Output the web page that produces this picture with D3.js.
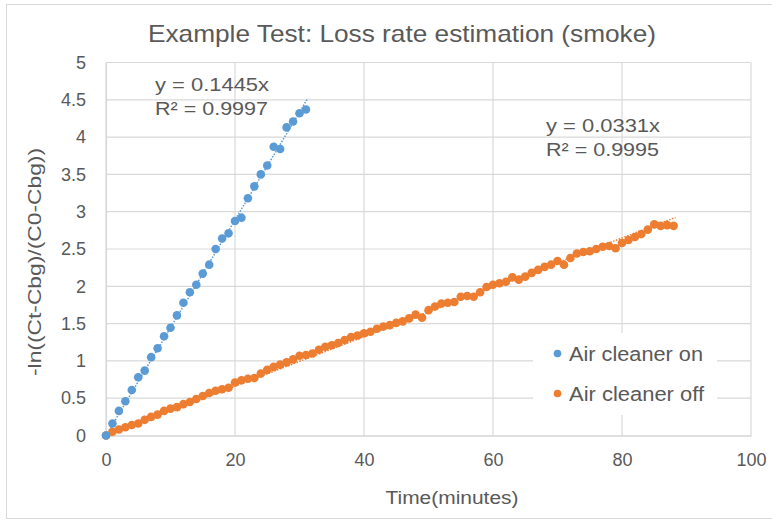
<html>
<head>
<script src="https://d3js.org/d3.v7.min.js"></script>
<style>
  body { margin: 0; background: #fff; }
  text { font-family: "Liberation Sans", Arial, sans-serif; fill: #595959; }
</style>
</head>
<body>
<div id="container"></div>
<script>
// --- data ---
const blueTimes = d3.range(0, 32)
const blueValues = [0, 0.16, 0.33, 0.46, 0.61, 0.78, 0.87, 1.05, 1.17, 1.33, 1.445,
  1.61, 1.78, 1.92, 2.02, 2.17, 2.29, 2.50, 2.64, 2.71, 2.875, 2.92, 3.18, 3.34,
  3.50, 3.62, 3.87, 3.84, 4.13, 4.21, 4.32, 4.37]

const orangeTimes = d3.range(0, 89)
const orangeValues = [0.00, 0.05, 0.08, 0.11, 0.14, 0.16, 0.21, 0.25, 0.28, 0.33,
  0.36, 0.38, 0.42, 0.45, 0.49, 0.53, 0.57, 0.60, 0.62, 0.64,
  0.71, 0.74, 0.76, 0.77, 0.83, 0.88, 0.92, 0.95, 0.98, 1.02,
  1.07, 1.08, 1.10, 1.15, 1.19, 1.21, 1.24, 1.28, 1.32, 1.34,
  1.37, 1.39, 1.43, 1.46, 1.48, 1.51, 1.53, 1.57, 1.62, 1.58,
  1.68, 1.73, 1.77, 1.78, 1.79, 1.86, 1.87, 1.86, 1.92, 1.99,
  2.02, 2.04, 2.06, 2.12, 2.09, 2.13, 2.18, 2.22, 2.26, 2.29,
  2.34, 2.29, 2.38, 2.44, 2.46, 2.47, 2.50, 2.53, 2.54, 2.51,
  2.58, 2.62, 2.66, 2.70, 2.76, 2.83, 2.81, 2.82, 2.81]

const seriesNames = ['Air cleaner on', 'Air cleaner off']
const seriesColors = ['#5B9BD5', '#ED7D31']
const slopes = [0.1445, 0.0331]
const rSquared = ['0.9997', '0.9995']
const xTicks = [0, 20, 40, 60, 80, 100]
const yTicks = [0, 0.5, 1, 1.5, 2, 2.5, 3, 3.5, 4, 4.5, 5]

const width = 772, height = 527
const plot = { left: 106, right: 751, top: 62.5, bottom: 435.5 }

const svg = d3.select('#container').append('svg')
  .attr('width', width).attr('height', height)

// chart border
svg.append('rect')
  .attr('x', 6.5).attr('y', 4.5).attr('width', 790).attr('height', 514)
  .attr('fill', '#fff').attr('stroke', '#D9D9D9')

const x = d3.scaleLinear().domain([0, 100]).range([plot.left, plot.right])
const y = d3.scaleLinear().domain([0, 5]).range([plot.bottom, plot.top])

// gridlines
svg.append('g').selectAll('line.h').data(yTicks.slice(1)).join('line')
  .attr('x1', plot.left).attr('x2', plot.right)
  .attr('y1', d => y(d)).attr('y2', d => y(d))
  .attr('stroke', '#D9D9D9').attr('stroke-width', 1.2)
svg.append('g').selectAll('line.v').data(xTicks).join('line')
  .attr('x1', d => x(d)).attr('x2', d => x(d))
  .attr('y1', plot.top).attr('y2', plot.bottom)
  .attr('stroke', '#D9D9D9').attr('stroke-width', 1.2)

// x axis
const xAxis = svg.append('g')
  .attr('transform', `translate(0,${plot.bottom})`)
  .call(d3.axisBottom(x).tickValues(xTicks).tickSize(0).tickPadding(18))
xAxis.select('.domain').attr('stroke', '#BFBFBF').attr('stroke-width', 1.2)
xAxis.selectAll('text').style('font-size', '18px').attr('fill', '#595959')

// y axis
const yAxis = svg.append('g')
  .attr('transform', `translate(${plot.left},0)`)
  .call(d3.axisLeft(y).tickValues(yTicks).tickSize(0).tickPadding(20)
    .tickFormat(d3.format('')))
yAxis.select('.domain').attr('stroke', '#D9D9D9').attr('stroke-width', 1.2)
yAxis.selectAll('text').style('font-size', '18px').attr('fill', '#595959')

// titles
svg.append('text')
  .attr('x', 402).attr('y', 42).attr('text-anchor', 'middle')
  .attr('textLength', 508).attr('lengthAdjust', 'spacingAndGlyphs')
  .style('font-size', '24px')
  .text('Example Test: Loss rate estimation (smoke)')

svg.append('text')
  .attr('x', 452).attr('y', 504).attr('text-anchor', 'middle')
  .attr('textLength', 133).attr('lengthAdjust', 'spacingAndGlyphs')
  .style('font-size', '18px')
  .text('Time(minutes)')

svg.append('text')
  .attr('transform', 'translate(41,262) rotate(-90)')
  .attr('text-anchor', 'middle')
  .attr('textLength', 228).attr('lengthAdjust', 'spacingAndGlyphs')
  .style('font-size', '18px')
  .text('-ln((Ct-Cbg)/(C0-Cbg))')

// series
const series = [
  { times: blueTimes, values: blueValues },
  { times: orangeTimes, values: orangeValues }
]

// trendlines (dotted)
series.forEach((s, i) => {
  const tMax = d3.max(s.times) + 0.3
  svg.append('line')
    .attr('x1', x(0)).attr('y1', y(0))
    .attr('x2', x(tMax)).attr('y2', y(slopes[i] * tMax))
    .attr('stroke', seriesColors[i]).attr('stroke-width', 1.5)
    .attr('stroke-dasharray', '1.5,1.5')
})

// points
series.slice().reverse().forEach((s, j) => {
  const i = series.length - 1 - j
  svg.append('g').selectAll('circle')
    .data(s.times.map((t, k) => [t, s.values[k]]))
    .join('circle')
    .attr('cx', d => x(d[0])).attr('cy', d => y(d[1]))
    .attr('r', 4.3)
    .attr('fill', seriesColors[i])
})

// trendline labels
const labelPos = [[155, 91], [546, 132]]
series.forEach((s, i) => {
  svg.append('text')
    .attr('x', labelPos[i][0]).attr('y', labelPos[i][1])
    .attr('textLength', 114).attr('lengthAdjust', 'spacingAndGlyphs')
    .style('font-size', '19px')
    .text(`y = ${slopes[i]}x`)
  svg.append('text')
    .attr('x', labelPos[i][0]).attr('y', labelPos[i][1] + 24)
    .attr('textLength', 113).attr('lengthAdjust', 'spacingAndGlyphs')
    .style('font-size', '19px')
    .text(`R² = ${rSquared[i]}`)
})

// legend
const legend = svg.append('g')
legend.append('rect')
  .attr('x', 533).attr('y', 333).attr('width', 184).attr('height', 82)
  .attr('fill', '#fff')
seriesNames.forEach((name, i) => {
  const cy = 353.5 + i * 40
  legend.append('circle')
    .attr('cx', 557.5).attr('cy', cy).attr('r', 3.8)
    .attr('fill', seriesColors[i])
  legend.append('text')
    .attr('x', 569).attr('y', cy + 7)
    .attr('textLength', name.endsWith('on') ? 134 : 135)
    .attr('lengthAdjust', 'spacingAndGlyphs')
    .style('font-size', '20px')
    .text(name)
})
</script>
</body>
</html>
